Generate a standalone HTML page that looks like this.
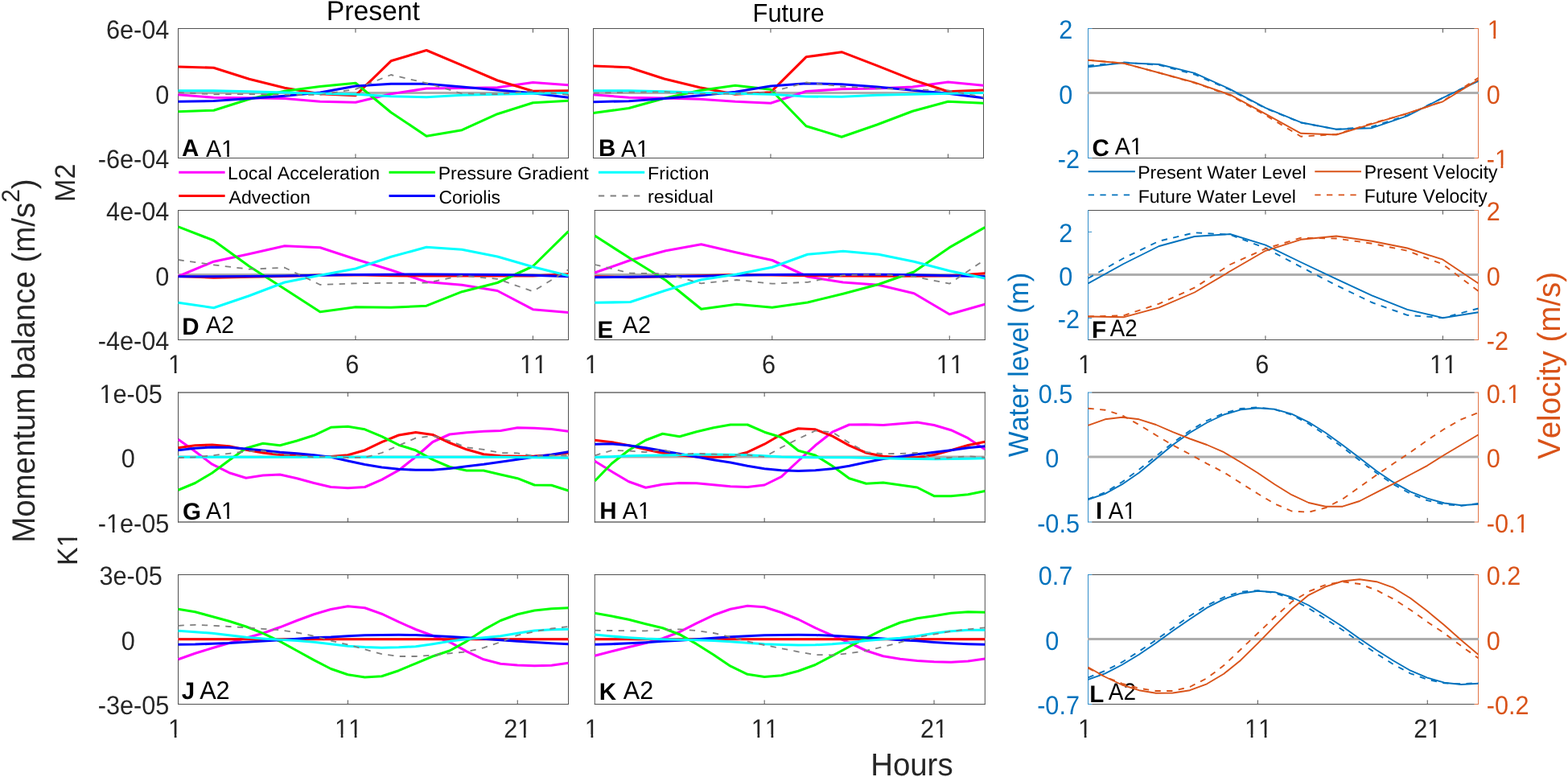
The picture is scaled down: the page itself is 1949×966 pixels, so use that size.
<!DOCTYPE html>
<html lang="en"><head><meta charset="utf-8"><title>Momentum balance</title>
<style>html,body{margin:0;padding:0;background:#fff;overflow:hidden}svg{display:block}text{font-family:"Liberation Sans",Arial,Helvetica,sans-serif;white-space:pre;font-kerning:none;text-rendering:geometricPrecision}.ln{fill:none;stroke-linejoin:round;stroke-linecap:butt}</style></head><body>
<svg width="1949" height="966" viewBox="0 0 1949 966">
<rect width="1949" height="966" fill="#fff"/>
<g id="pA">
<path d="M221.00 35.50H707.00M221.00 196.50H707.00" stroke="#515151" stroke-width="1" fill="none"/>
<path d="M441.95 35.5v5.1M441.95 196.5v-5.1M662.41 35.5v5.1M662.41 196.5v-5.1" stroke="#515151" stroke-width="1" fill="none"/>
<path d="M221.5 35.0V197.0" stroke="#515151" stroke-width="1" fill="none"/>
<path d="M706.5 35.0V197.0" stroke="#515151" stroke-width="1" fill="none"/>
<clipPath id="cA"><rect x="221.0" y="35.0" width="486.0" height="162.0"/></clipPath>
<g clip-path="url(#cA)">
<line x1="220.5" y1="115.60" x2="707.5" y2="115.60" stroke="#ADADAD" stroke-width="3"/>
<polyline class="ln" points="221.5,117.8 265.6,121.3 309.7,121.7 353.8,122.5 397.9,126.3 442.0,127.2 486.0,116.7 530.1,110.0 574.2,109.5 618.3,108.8 662.4,102.5 706.5,105.8" stroke="#FF00FF" stroke-width="3.05"/>
<polyline class="ln" points="221.5,83.0 265.6,84.2 309.7,98.3 353.8,109.2 397.9,116.7 442.0,118.7 486.0,75.8 530.1,62.5 574.2,81.2 618.3,100.0 662.4,113.3 706.5,112.7" stroke="#FF0000" stroke-width="3.05"/>
<polyline class="ln" points="221.5,138.7 265.6,137.2 309.7,123.3 353.8,113.3 397.9,107.5 442.0,103.3 486.0,139.7 530.1,169.2 574.2,161.7 618.3,141.7 662.4,127.8 706.5,125.3" stroke="#00FF00" stroke-width="3.05"/>
<polyline class="ln" points="221.5,126.3 265.6,125.5 309.7,122.5 353.8,119.2 397.9,115.0 442.0,107.0 486.0,104.2 530.1,104.3 574.2,108.0 618.3,112.0 662.4,115.8 706.5,121.2" stroke="#0000FF" stroke-width="3.05"/>
<polyline class="ln" points="221.5,112.7 265.6,112.7 309.7,113.7 353.8,115.0 397.9,116.3 442.0,117.2 486.0,119.7 530.1,120.7 574.2,118.3 618.3,117.2 662.4,116.2 706.5,115.5" stroke="#00FFFF" stroke-width="3.05"/>
<polyline class="ln" points="221.5,115.0 265.6,117.3 309.7,117.0 353.8,117.8 397.9,117.8 442.0,110.8 486.0,93.0 530.1,103.3 574.2,116.3 618.3,117.0 662.4,113.3 706.5,117.8" stroke="#808080" stroke-width="1.8" stroke-dasharray="7.3 7.4"/>
<text transform="translate(226.07 193.70) scale(1 1.0125)" font-size="29.50" fill="#000" font-weight="bold">A</text>
<clipPath id="f1"><path clip-rule="evenodd" d="M-400 -200H800V200H-400ZM19.72 -3.44H26.33V1.15H19.72ZM28.92 -3.44H35.50V1.15H28.92Z"/></clipPath>
<text transform="translate(255.94 194.80) scale(1 1.0357)" font-size="28.70" fill="#000" clip-path="url(#f1)">A1</text>
</g>
</g>
<g id="pB">
<path d="M737.00 35.50H1223.00M737.00 196.50H1223.00" stroke="#515151" stroke-width="1" fill="none"/>
<path d="M957.95 35.5v5.1M957.95 196.5v-5.1M1178.41 35.5v5.1M1178.41 196.5v-5.1" stroke="#515151" stroke-width="1" fill="none"/>
<path d="M737.5 35.0V197.0" stroke="#515151" stroke-width="1" fill="none"/>
<path d="M1222.5 35.0V197.0" stroke="#515151" stroke-width="1" fill="none"/>
<clipPath id="cB"><rect x="737.0" y="35.0" width="486.0" height="162.0"/></clipPath>
<g clip-path="url(#cB)">
<line x1="736.5" y1="115.60" x2="1223.5" y2="115.60" stroke="#ADADAD" stroke-width="3"/>
<polyline class="ln" points="737.5,117.8 781.6,121.2 825.7,122.0 869.8,123.3 913.9,126.3 958.0,128.3 1002.0,113.5 1046.1,110.8 1090.2,110.0 1134.3,108.0 1178.4,102.0 1222.5,106.3" stroke="#FF00FF" stroke-width="3.05"/>
<polyline class="ln" points="737.5,82.0 781.6,83.8 825.7,98.0 869.8,108.8 913.9,117.2 958.0,114.7 1002.0,70.8 1046.1,64.7 1090.2,81.7 1134.3,99.2 1178.4,113.8 1222.5,112.0" stroke="#FF0000" stroke-width="3.05"/>
<polyline class="ln" points="737.5,140.5 781.6,134.5 825.7,122.2 869.8,112.5 913.9,106.3 958.0,111.2 1002.0,156.7 1046.1,170.3 1090.2,155.0 1134.3,138.3 1178.4,126.3 1222.5,128.3" stroke="#00FF00" stroke-width="3.05"/>
<polyline class="ln" points="737.5,126.7 781.6,125.7 825.7,122.5 869.8,118.7 913.9,114.2 958.0,107.0 1002.0,103.7 1046.1,104.8 1090.2,108.0 1134.3,112.2 1178.4,116.2 1222.5,121.7" stroke="#0000FF" stroke-width="3.05"/>
<polyline class="ln" points="737.5,112.7 781.6,112.8 825.7,113.8 869.8,115.3 913.9,116.2 958.0,117.2 1002.0,120.0 1046.1,120.3 1090.2,118.3 1134.3,117.2 1178.4,116.2 1222.5,115.5" stroke="#00FFFF" stroke-width="3.05"/>
<polyline class="ln" points="737.5,115.8 781.6,114.7 825.7,114.2 869.8,116.7 913.9,116.7 958.0,114.5 1002.0,102.5 1046.1,107.5 1090.2,110.0 1134.3,111.3 1178.4,112.5 1222.5,120.8" stroke="#808080" stroke-width="1.8" stroke-dasharray="7.3 7.4"/>
<text transform="translate(743.93 193.70) scale(1 1.0125)" font-size="29.50" fill="#000" font-weight="bold">B</text>
<clipPath id="f2"><path clip-rule="evenodd" d="M-400 -200H800V200H-400ZM19.72 -3.44H26.33V1.15H19.72ZM28.92 -3.44H35.50V1.15H28.92Z"/></clipPath>
<text transform="translate(771.94 194.80) scale(1 1.0357)" font-size="28.70" fill="#000" clip-path="url(#f2)">A1</text>
</g>
</g>
<g id="pC">
<path d="M1357.20 35.50H1832.80M1357.20 196.50H1832.80" stroke="#515151" stroke-width="1" fill="none"/>
<path d="M1572.95 35.5v5.1M1572.95 196.5v-5.1M1793.41 35.5v5.1M1793.41 196.5v-5.1" stroke="#515151" stroke-width="1" fill="none"/>
<path d="M1352.5 35.50h4.7M1352.5 116.00h4.7M1352.5 196.50h4.7" stroke="#338ECA" stroke-width="1" fill="none"/>
<path d="M1837.5 35.50h-4.7M1837.5 116.00h-4.7M1837.5 196.50h-4.7" stroke="#E17547" stroke-width="1" fill="none"/>
<path d="M1352.5 35.0V197.0" stroke="#338ECA" stroke-width="1" fill="none"/>
<path d="M1837.5 35.0V197.0" stroke="#E17547" stroke-width="1" fill="none"/>
<clipPath id="cC"><rect x="1352.0" y="35.0" width="486.0" height="162.0"/></clipPath>
<g clip-path="url(#cC)">
<line x1="1351.5" y1="115.60" x2="1838.5" y2="115.60" stroke="#ADADAD" stroke-width="3"/>
<polyline class="ln" points="1352.5,83.3 1396.6,78.0 1440.7,80.0 1484.8,90.8 1528.9,110.8 1573.0,134.2 1617.0,152.2 1661.1,160.8 1705.2,159.2 1749.3,144.2 1793.4,121.7 1837.5,100.8" stroke="#0072BD" stroke-width="1.9"/>
<polyline class="ln" points="1352.5,81.7 1396.6,77.5 1440.7,80.8 1484.8,92.5 1528.9,111.7 1573.0,134.7 1617.0,152.5 1661.1,160.8 1705.2,157.5 1749.3,143.3 1793.4,121.7 1837.5,100.0" stroke="#0072BD" stroke-width="1.9" stroke-dasharray="7.3 7.4"/>
<text transform="translate(1357.39 193.90) scale(1 1.0125)" font-size="29.50" fill="#000" font-weight="bold">C</text>
<clipPath id="f3"><path clip-rule="evenodd" d="M-400 -200H800V200H-400ZM19.58 -3.43H26.15V1.14H19.58ZM28.72 -3.43H35.25V1.14H28.72Z"/></clipPath>
<text transform="translate(1385.84 191.90) scale(1 1.0429)" font-size="28.50" fill="#000" clip-path="url(#f3)">A1</text>
<polyline class="ln" points="1352.5,74.7 1396.6,78.7 1440.7,90.5 1484.8,102.5 1528.9,117.7 1573.0,141.7 1617.0,165.8 1661.1,167.5 1705.2,154.2 1749.3,140.8 1793.4,126.3 1837.5,99.2" stroke="#D95319" stroke-width="1.9"/>
<polyline class="ln" points="1352.5,74.7 1396.6,78.7 1440.7,90.5 1484.8,103.0 1528.9,118.5 1573.0,143.2 1617.0,169.7 1661.1,167.0 1705.2,153.3 1749.3,141.3 1793.4,125.8 1837.5,96.7" stroke="#D95319" stroke-width="1.9" stroke-dasharray="7.3 7.4"/>
</g>
</g>
<g id="pD">
<path d="M221.00 261.50H707.00M221.00 422.50H707.00" stroke="#515151" stroke-width="1" fill="none"/>
<path d="M441.95 261.5v5.1M441.95 422.5v-5.1M662.41 261.5v5.1M662.41 422.5v-5.1" stroke="#515151" stroke-width="1" fill="none"/>
<path d="M221.5 261.0V423.0" stroke="#515151" stroke-width="1" fill="none"/>
<path d="M706.5 261.0V423.0" stroke="#515151" stroke-width="1" fill="none"/>
<clipPath id="cD"><rect x="221.0" y="261.0" width="486.0" height="162.0"/></clipPath>
<g clip-path="url(#cD)">
<line x1="220.5" y1="341.60" x2="707.5" y2="341.60" stroke="#ADADAD" stroke-width="3"/>
<polyline class="ln" points="221.5,343.5 265.6,325.2 309.7,315.7 353.8,305.7 397.9,307.7 442.0,322.2 486.0,335.7 530.1,350.5 574.2,354.3 618.3,361.5 662.4,384.7 706.5,388.5" stroke="#FF00FF" stroke-width="3.05"/>
<polyline class="ln" points="221.5,343.5 265.6,345.2 309.7,344.3 353.8,343.5 397.9,342.0 442.0,341.8 486.0,342.7 530.1,343.0 574.2,343.0 618.3,343.0 662.4,343.0 706.5,340.7" stroke="#FF0000" stroke-width="3.05"/>
<polyline class="ln" points="221.5,281.8 265.6,299.0 309.7,331.0 353.8,359.3 397.9,387.7 442.0,381.8 486.0,382.3 530.1,380.2 574.2,362.7 618.3,351.5 662.4,331.0 706.5,287.7" stroke="#00FF00" stroke-width="3.05"/>
<polyline class="ln" points="221.5,343.8 265.6,343.8 309.7,343.5 353.8,343.0 397.9,342.3 442.0,341.5 486.0,341.2 530.1,341.0 574.2,341.2 618.3,341.5 662.4,342.2 706.5,343.8" stroke="#0000FF" stroke-width="3.05"/>
<polyline class="ln" points="221.5,376.3 265.6,382.7 309.7,367.7 353.8,351.0 397.9,342.2 442.0,334.0 486.0,319.3 530.1,307.3 574.2,310.2 618.3,319.0 662.4,331.8 706.5,342.7" stroke="#00FFFF" stroke-width="3.05"/>
<polyline class="ln" points="221.5,323.0 265.6,329.3 309.7,334.7 353.8,332.7 397.9,354.0 442.0,352.3 486.0,351.8 530.1,351.7 574.2,342.7 618.3,346.8 662.4,362.3 706.5,335.2" stroke="#808080" stroke-width="1.8" stroke-dasharray="7.3 7.4"/>
<text transform="translate(226.23 415.80) scale(1 1.0125)" font-size="29.50" fill="#000" font-weight="bold">D</text>
<text transform="translate(255.94 414.20) scale(1 1.0357)" font-size="28.70" fill="#000">A2</text>
</g>
</g>
<g id="pE">
<path d="M738.80 261.50H1224.80M738.80 422.50H1224.80" stroke="#515151" stroke-width="1" fill="none"/>
<path d="M959.75 261.5v5.1M959.75 422.5v-5.1M1180.21 261.5v5.1M1180.21 422.5v-5.1" stroke="#515151" stroke-width="1" fill="none"/>
<path d="M739.3 261.0V423.0" stroke="#515151" stroke-width="1" fill="none"/>
<path d="M1224.3 261.0V423.0" stroke="#515151" stroke-width="1" fill="none"/>
<clipPath id="cE"><rect x="738.8" y="261.0" width="486.0" height="162.0"/></clipPath>
<g clip-path="url(#cE)">
<line x1="738.3" y1="341.60" x2="1225.3" y2="341.60" stroke="#ADADAD" stroke-width="3"/>
<polyline class="ln" points="739.3,339.0 783.4,323.5 827.5,311.8 871.6,303.8 915.7,314.0 959.8,323.5 1003.8,344.0 1047.9,351.0 1092.0,354.3 1136.1,364.7 1180.2,390.7 1224.3,378.2" stroke="#FF00FF" stroke-width="3.05"/>
<polyline class="ln" points="739.3,343.8 783.4,344.8 827.5,343.8 871.6,342.7 915.7,341.5 959.8,342.0 1003.8,342.7 1047.9,343.0 1092.0,343.2 1136.1,343.2 1180.2,343.0 1224.3,339.8" stroke="#FF0000" stroke-width="3.05"/>
<polyline class="ln" points="739.3,293.0 783.4,321.3 827.5,348.5 871.6,384.3 915.7,378.2 959.8,382.3 1003.8,376.0 1047.9,365.2 1092.0,353.5 1136.1,338.0 1180.2,307.7 1224.3,282.7" stroke="#00FF00" stroke-width="3.05"/>
<polyline class="ln" points="739.3,344.7 783.4,344.3 827.5,343.8 871.6,343.3 915.7,342.2 959.8,341.5 1003.8,341.2 1047.9,341.2 1092.0,341.3 1136.1,341.8 1180.2,342.7 1224.3,343.8" stroke="#0000FF" stroke-width="3.05"/>
<polyline class="ln" points="739.3,376.3 783.4,375.5 827.5,361.0 871.6,347.7 915.7,341.0 959.8,332.3 1003.8,316.3 1047.9,312.3 1092.0,316.3 1136.1,325.2 1180.2,336.8 1224.3,346.0" stroke="#00FFFF" stroke-width="3.05"/>
<polyline class="ln" points="739.3,329.0 783.4,339.7 827.5,340.2 871.6,352.3 915.7,348.0 959.8,352.7 1003.8,350.8 1047.9,342.2 1092.0,341.0 1136.1,343.8 1180.2,352.7 1224.3,322.7" stroke="#808080" stroke-width="1.8" stroke-dasharray="7.3 7.4"/>
<text transform="translate(742.43 419.90) scale(1 1.0125)" font-size="29.50" fill="#000" font-weight="bold">E</text>
<text transform="translate(773.84 414.20) scale(1 1.0357)" font-size="28.70" fill="#000">A2</text>
</g>
</g>
<g id="pF">
<path d="M1352.00 261.50H1832.80M1352.00 422.50H1832.80" stroke="#515151" stroke-width="1" fill="none"/>
<path d="M1572.95 261.5v5.1M1572.95 422.5v-5.1M1793.41 261.5v5.1M1793.41 422.5v-5.1" stroke="#515151" stroke-width="1" fill="none"/>
<path d="M1352.5 288.33h4.7M1352.5 342.00h4.7M1352.5 395.67h4.7" stroke="#338ECA" stroke-width="1" fill="none"/>
<path d="M1837.5 261.50h-4.7M1837.5 342.00h-4.7M1837.5 422.50h-4.7" stroke="#E17547" stroke-width="1" fill="none"/>
<path d="M1352.5 261.0V423.0" stroke="#338ECA" stroke-width="1" fill="none"/>
<path d="M1837.5 261.0V423.0" stroke="#E17547" stroke-width="1" fill="none"/>
<clipPath id="cF"><rect x="1352.0" y="261.0" width="486.0" height="162.0"/></clipPath>
<g clip-path="url(#cF)">
<line x1="1351.5" y1="341.60" x2="1838.5" y2="341.60" stroke="#ADADAD" stroke-width="3"/>
<polyline class="ln" points="1352.5,352.3 1396.6,328.0 1440.7,306.0 1484.8,294.0 1528.9,291.0 1573.0,304.7 1617.0,326.0 1661.1,346.8 1705.2,367.3 1749.3,384.8 1793.4,395.2 1837.5,388.2" stroke="#0072BD" stroke-width="1.9"/>
<polyline class="ln" points="1352.5,346.0 1396.6,321.0 1440.7,299.7 1484.8,289.3 1528.9,291.7 1573.0,308.5 1617.0,331.8 1661.1,354.7 1705.2,376.0 1749.3,391.8 1793.4,395.2 1837.5,383.5" stroke="#0072BD" stroke-width="1.9" stroke-dasharray="7.3 7.4"/>
<text transform="translate(1357.03 419.90) scale(1 1.0125)" font-size="29.50" fill="#000" font-weight="bold">F</text>
<text transform="translate(1379.85 418.30) scale(1 1.0770)" font-size="27.60" fill="#000">A2</text>
<polyline class="ln" points="1352.5,393.5 1396.6,394.3 1440.7,382.3 1484.8,363.5 1528.9,337.3 1573.0,311.8 1617.0,297.8 1661.1,293.5 1705.2,299.7 1749.3,308.5 1793.4,322.7 1837.5,352.3" stroke="#D95319" stroke-width="1.9"/>
<polyline class="ln" points="1352.5,393.5 1396.6,392.3 1440.7,377.7 1484.8,357.7 1528.9,329.0 1573.0,309.2 1617.0,295.7 1661.1,296.5 1705.2,302.7 1749.3,311.8 1793.4,328.5 1837.5,361.8" stroke="#D95319" stroke-width="1.9" stroke-dasharray="7.3 7.4"/>
</g>
</g>
<g id="pG">
<path d="M221.00 488.00H707.00M221.00 649.00H707.00" stroke="#1c1c1c" stroke-width="1" fill="none"/>
<path d="M432.37 488.0v5.1M432.37 649.0v-5.1M643.24 488.0v5.1M643.24 649.0v-5.1" stroke="#515151" stroke-width="1" fill="none"/>
<path d="M221.5 487.5V649.5" stroke="#515151" stroke-width="1" fill="none"/>
<path d="M706.5 487.5V649.5" stroke="#515151" stroke-width="1" fill="none"/>
<clipPath id="cG"><rect x="221.0" y="487.5" width="486.0" height="162.0"/></clipPath>
<g clip-path="url(#cG)">
<line x1="220.5" y1="568.10" x2="707.5" y2="568.10" stroke="#ADADAD" stroke-width="3"/>
<polyline class="ln" points="221.5,546.3 242.6,561.3 263.7,577.2 284.8,587.7 305.8,594.2 326.9,591.0 348.0,590.0 369.1,594.7 390.2,600.5 411.3,605.5 432.4,606.7 453.5,605.5 474.5,596.3 495.6,584.7 516.7,568.0 537.8,549.5 558.9,540.0 580.0,537.7 601.1,536.3 622.2,535.5 643.2,531.8 664.3,532.2 685.4,533.5 706.5,536.3" stroke="#FF00FF" stroke-width="3.05"/>
<polyline class="ln" points="221.5,556.8 242.6,553.8 263.7,553.0 284.8,554.7 305.8,559.3 326.9,563.0 348.0,565.5 369.1,566.0 390.2,567.7 411.3,567.5 432.4,565.7 453.5,559.7 474.5,549.7 495.6,541.0 516.7,537.5 537.8,540.5 558.9,550.5 580.0,558.8 601.1,564.8 622.2,566.8 643.2,567.3 664.3,567.0 685.4,565.7 706.5,563.0" stroke="#FF0000" stroke-width="3.05"/>
<polyline class="ln" points="221.5,609.3 242.6,600.5 263.7,588.0 284.8,572.2 305.8,557.2 326.9,551.3 348.0,553.8 369.1,548.0 390.2,541.3 411.3,531.3 432.4,530.3 453.5,533.8 474.5,542.7 495.6,553.2 516.7,559.8 537.8,571.3 558.9,580.5 580.0,585.0 601.1,585.0 622.2,590.0 643.2,594.7 664.3,603.0 685.4,603.3 706.5,610.0" stroke="#00FF00" stroke-width="3.05"/>
<polyline class="ln" points="221.5,559.7 242.6,557.2 263.7,556.0 284.8,556.3 305.8,558.0 326.9,560.0 348.0,562.2 369.1,563.8 390.2,565.8 411.3,568.3 432.4,573.0 453.5,577.5 474.5,581.0 495.6,583.3 516.7,584.3 537.8,584.2 558.9,582.5 580.0,579.7 601.1,577.2 622.2,574.2 643.2,571.3 664.3,568.0 685.4,565.2 706.5,561.8" stroke="#0000FF" stroke-width="3.05"/>
<polyline class="ln" points="221.5,568.3 242.6,568.3 263.7,568.3 284.8,568.3 305.8,568.3 326.9,568.3 348.0,568.3 369.1,568.3 390.2,568.3 411.3,568.3 432.4,568.3 453.5,568.3 474.5,568.3 495.6,568.3 516.7,568.3 537.8,568.3 558.9,568.3 580.0,568.3 601.1,568.3 622.2,568.3 643.2,568.5 664.3,568.7 685.4,569.0 706.5,569.2" stroke="#00FFFF" stroke-width="3.05"/>
<polyline class="ln" points="221.5,569.2 242.6,568.3 263.7,566.3 284.8,563.8 305.8,561.3 326.9,560.5 348.0,564.7 369.1,566.3 390.2,568.3 411.3,567.2 432.4,569.0 453.5,568.8 474.5,563.0 495.6,553.8 516.7,544.7 537.8,541.7 558.9,548.0 580.0,556.3 601.1,558.8 622.2,563.0 643.2,563.3 664.3,567.2 685.4,566.0 706.5,566.3" stroke="#808080" stroke-width="1.8" stroke-dasharray="7.3 7.4"/>
<text transform="translate(226.99 646.30) scale(1 1.0125)" font-size="29.50" fill="#000" font-weight="bold">G</text>
<clipPath id="f4"><path clip-rule="evenodd" d="M-400 -200H800V200H-400ZM19.72 -3.44H26.33V1.15H19.72ZM28.92 -3.44H35.50V1.15H28.92Z"/></clipPath>
<text transform="translate(255.94 644.70) scale(1 1.0357)" font-size="28.70" fill="#000" clip-path="url(#f4)">A1</text>
</g>
</g>
<g id="pH">
<path d="M738.80 488.00H1224.80M738.80 649.00H1224.80" stroke="#1c1c1c" stroke-width="1" fill="none"/>
<path d="M950.17 488.0v5.1M950.17 649.0v-5.1M1161.04 488.0v5.1M1161.04 649.0v-5.1" stroke="#515151" stroke-width="1" fill="none"/>
<path d="M739.3 487.5V649.5" stroke="#515151" stroke-width="1" fill="none"/>
<path d="M1224.3 487.5V649.5" stroke="#515151" stroke-width="1" fill="none"/>
<clipPath id="cH"><rect x="738.8" y="487.5" width="486.0" height="162.0"/></clipPath>
<g clip-path="url(#cH)">
<line x1="738.3" y1="568.10" x2="1225.3" y2="568.10" stroke="#ADADAD" stroke-width="3"/>
<polyline class="ln" points="739.3,573.3 760.4,586.3 781.5,598.8 802.6,606.3 823.6,602.2 844.7,600.5 865.8,600.8 886.9,602.7 908.0,604.7 929.1,605.5 950.2,603.0 971.3,592.7 992.3,573.0 1013.4,553.8 1034.5,537.2 1055.6,528.0 1076.7,527.7 1097.8,528.5 1118.9,526.7 1140.0,525.0 1161.0,528.5 1182.1,534.7 1203.2,544.7 1224.3,558.8" stroke="#FF00FF" stroke-width="3.05"/>
<polyline class="ln" points="739.3,547.2 760.4,549.7 781.5,553.8 802.6,558.8 823.6,563.3 844.7,566.0 865.8,567.7 886.9,568.3 908.0,567.8 929.1,562.2 950.2,552.2 971.3,540.0 992.3,532.7 1013.4,533.8 1034.5,542.2 1055.6,553.8 1076.7,563.0 1097.8,567.2 1118.9,568.8 1140.0,568.8 1161.0,565.5 1182.1,559.7 1203.2,553.5 1224.3,549.3" stroke="#FF0000" stroke-width="3.05"/>
<polyline class="ln" points="739.3,598.0 760.4,576.3 781.5,559.7 802.6,547.2 823.6,539.3 844.7,542.7 865.8,536.8 886.9,531.7 908.0,528.0 929.1,528.0 950.2,537.2 971.3,543.8 992.3,560.2 1013.4,566.0 1034.5,579.3 1055.6,594.7 1076.7,601.3 1097.8,600.0 1118.9,603.0 1140.0,606.0 1161.0,616.7 1182.1,616.7 1203.2,614.7 1224.3,610.5" stroke="#00FF00" stroke-width="3.05"/>
<polyline class="ln" points="739.3,552.2 760.4,551.8 781.5,553.8 802.6,556.7 823.6,560.5 844.7,564.3 865.8,568.0 886.9,571.7 908.0,575.0 929.1,579.2 950.2,582.7 971.3,584.7 992.3,585.5 1013.4,584.7 1034.5,582.7 1055.6,579.3 1076.7,574.7 1097.8,570.5 1118.9,567.7 1140.0,564.7 1161.0,562.2 1182.1,559.7 1203.2,556.8 1224.3,554.7" stroke="#0000FF" stroke-width="3.05"/>
<polyline class="ln" points="739.3,568.5 760.4,567.7 781.5,566.8 802.6,566.3 823.6,566.0 844.7,565.5 865.8,565.0 886.9,565.0 908.0,565.2 929.1,565.7 950.2,566.7 971.3,568.0 992.3,568.5 1013.4,568.7 1034.5,568.8 1055.6,568.8 1076.7,569.2 1097.8,569.7 1118.9,570.2 1140.0,570.5 1161.0,570.8 1182.1,570.5 1203.2,570.2 1224.3,569.7" stroke="#00FFFF" stroke-width="3.05"/>
<polyline class="ln" points="739.3,566.3 760.4,560.0 781.5,560.5 802.6,562.2 823.6,558.8 844.7,565.0 865.8,563.8 886.9,564.7 908.0,565.8 929.1,565.5 950.2,568.0 971.3,556.3 992.3,545.5 1013.4,535.5 1034.5,537.2 1055.6,550.5 1076.7,562.2 1097.8,564.3 1118.9,563.8 1140.0,563.0 1161.0,570.5 1182.1,568.8 1203.2,567.2 1224.3,568.8" stroke="#808080" stroke-width="1.8" stroke-dasharray="7.3 7.4"/>
<text transform="translate(745.23 644.90) scale(1 1.0125)" font-size="29.50" fill="#000" font-weight="bold">H</text>
<clipPath id="f5"><path clip-rule="evenodd" d="M-400 -200H800V200H-400ZM19.72 -3.44H26.33V1.15H19.72ZM28.92 -3.44H35.50V1.15H28.92Z"/></clipPath>
<text transform="translate(773.84 644.70) scale(1 1.0357)" font-size="28.70" fill="#000" clip-path="url(#f5)">A1</text>
</g>
</g>
<g id="pI">
<path d="M1357.20 488.00H1832.80M1357.20 649.00H1832.80" stroke="#1c1c1c" stroke-width="1" fill="none"/>
<path d="M1563.37 488.0v5.1M1563.37 649.0v-5.1M1774.24 488.0v5.1M1774.24 649.0v-5.1" stroke="#515151" stroke-width="1" fill="none"/>
<path d="M1352.5 488.00h4.7M1352.5 568.50h4.7M1352.5 649.00h4.7" stroke="#338ECA" stroke-width="1" fill="none"/>
<path d="M1837.5 488.00h-4.7M1837.5 568.50h-4.7M1837.5 649.00h-4.7" stroke="#E17547" stroke-width="1" fill="none"/>
<path d="M1352.5 487.5V649.5" stroke="#338ECA" stroke-width="1" fill="none"/>
<path d="M1837.5 487.5V649.5" stroke="#E17547" stroke-width="1" fill="none"/>
<clipPath id="cI"><rect x="1352.0" y="487.5" width="486.0" height="162.0"/></clipPath>
<g clip-path="url(#cI)">
<line x1="1351.5" y1="568.10" x2="1838.5" y2="568.10" stroke="#ADADAD" stroke-width="3"/>
<polyline class="ln" points="1352.5,621.0 1373.6,613.8 1394.7,602.2 1415.8,587.7 1436.8,570.5 1457.9,553.0 1479.0,538.0 1500.1,525.5 1521.2,515.5 1542.3,509.3 1563.4,507.2 1584.5,508.8 1605.5,514.7 1626.6,524.8 1647.7,538.0 1668.8,553.3 1689.9,569.2 1711.0,585.5 1732.1,599.7 1753.2,611.3 1774.2,619.7 1795.3,625.5 1816.4,628.3 1837.5,626.7" stroke="#0072BD" stroke-width="1.9"/>
<polyline class="ln" points="1352.5,620.5 1373.6,612.2 1394.7,599.3 1415.8,583.8 1436.8,567.2 1457.9,550.5 1479.0,535.5 1500.1,523.0 1521.2,513.8 1542.3,508.0 1563.4,506.3 1584.5,509.0 1605.5,515.7 1626.6,526.8 1647.7,540.8 1668.8,556.0 1689.9,572.2 1711.0,588.0 1732.1,602.2 1753.2,613.8 1774.2,622.2 1795.3,627.2 1816.4,628.8 1837.5,626.0" stroke="#0072BD" stroke-width="1.9" stroke-dasharray="7.3 7.4"/>
<text transform="translate(1362.08 644.90) scale(1 1.0125)" font-size="29.50" fill="#000" font-weight="bold">I</text>
<clipPath id="f6"><path clip-rule="evenodd" d="M-400 -200H800V200H-400ZM19.24 -3.39H25.69V1.12H19.24ZM28.22 -3.39H34.64V1.12H28.22Z"/></clipPath>
<text transform="translate(1377.85 644.70) scale(1 1.0616)" font-size="28.00" fill="#000" clip-path="url(#f6)">A1</text>
<polyline class="ln" points="1352.5,528.8 1373.6,521.3 1394.7,518.8 1415.8,521.3 1436.8,528.0 1457.9,537.2 1479.0,545.5 1500.1,553.0 1521.2,562.2 1542.3,574.7 1563.4,588.0 1584.5,602.2 1605.5,615.2 1626.6,625.0 1647.7,629.7 1668.8,629.7 1689.9,623.0 1711.0,612.2 1732.1,601.3 1753.2,590.0 1774.2,578.8 1795.3,565.5 1816.4,553.0 1837.5,540.5" stroke="#D95319" stroke-width="1.9"/>
<polyline class="ln" points="1352.5,507.7 1373.6,509.7 1394.7,516.3 1415.8,528.0 1436.8,541.0 1457.9,553.5 1479.0,564.7 1500.1,576.3 1521.2,587.2 1542.3,600.5 1563.4,613.8 1584.5,626.3 1605.5,635.5 1626.6,636.7 1647.7,631.3 1668.8,620.5 1689.9,605.5 1711.0,590.5 1732.1,576.3 1753.2,562.2 1774.2,547.2 1795.3,533.3 1816.4,521.3 1837.5,513.0" stroke="#D95319" stroke-width="1.9" stroke-dasharray="7.3 7.4"/>
</g>
</g>
<g id="pJ">
<path d="M221.00 714.50H707.00M221.00 875.50H707.00" stroke="#515151" stroke-width="1" fill="none"/>
<path d="M432.37 714.5v5.1M432.37 875.5v-5.1M643.24 714.5v5.1M643.24 875.5v-5.1" stroke="#515151" stroke-width="1" fill="none"/>
<path d="M221.5 714.0V876.0" stroke="#515151" stroke-width="1" fill="none"/>
<path d="M706.5 714.0V876.0" stroke="#515151" stroke-width="1" fill="none"/>
<clipPath id="cJ"><rect x="221.0" y="714.0" width="486.0" height="162.0"/></clipPath>
<g clip-path="url(#cJ)">
<line x1="220.5" y1="794.60" x2="707.5" y2="794.60" stroke="#ADADAD" stroke-width="3"/>
<polyline class="ln" points="221.5,819.8 242.6,812.3 263.7,805.7 284.8,799.5 305.8,793.2 326.9,787.3 348.0,779.8 369.1,771.5 390.2,763.7 411.3,757.5 432.4,753.7 453.5,755.7 474.5,763.2 495.6,773.2 516.7,782.5 537.8,790.2 558.9,798.2 580.0,809.8 601.1,819.8 622.2,825.2 643.2,827.0 664.3,827.8 685.4,827.3 706.5,824.3" stroke="#FF00FF" stroke-width="3.05"/>
<polyline class="ln" points="221.5,794.8 242.6,794.8 263.7,794.8 284.8,794.8 305.8,794.8 326.9,794.8 348.0,794.8 369.1,794.8 390.2,794.8 411.3,794.8 432.4,794.8 453.5,794.8 474.5,794.8 495.6,794.8 516.7,794.8 537.8,794.8 558.9,794.8 580.0,794.8 601.1,794.8 622.2,794.8 643.2,794.8 664.3,794.8 685.4,794.8 706.5,794.8" stroke="#FF0000" stroke-width="3.05"/>
<polyline class="ln" points="221.5,757.3 242.6,760.7 263.7,766.5 284.8,772.3 305.8,779.0 326.9,787.3 348.0,797.3 369.1,809.0 390.2,820.7 411.3,831.5 432.4,838.7 453.5,842.0 474.5,840.7 495.6,833.7 516.7,824.8 537.8,816.0 558.9,809.0 580.0,797.3 601.1,783.2 622.2,771.5 643.2,763.7 664.3,759.0 685.4,756.8 706.5,755.7" stroke="#00FF00" stroke-width="3.05"/>
<polyline class="ln" points="221.5,801.2 242.6,801.0 263.7,800.3 284.8,799.5 305.8,798.2 326.9,797.0 348.0,795.7 369.1,794.3 390.2,792.8 411.3,792.0 432.4,790.7 453.5,789.8 474.5,789.5 495.6,789.3 516.7,789.5 537.8,790.5 558.9,791.5 580.0,792.7 601.1,794.3 622.2,795.7 643.2,797.3 664.3,798.5 685.4,799.8 706.5,800.7" stroke="#0000FF" stroke-width="3.05"/>
<polyline class="ln" points="221.5,784.3 242.6,785.7 263.7,787.3 284.8,789.8 305.8,792.3 326.9,794.0 348.0,795.3 369.1,796.5 390.2,798.2 411.3,800.7 432.4,803.2 453.5,804.5 474.5,805.3 495.6,804.8 516.7,803.7 537.8,800.7 558.9,797.3 580.0,794.5 601.1,792.8 622.2,790.7 643.2,787.3 664.3,784.0 685.4,782.7 706.5,782.3" stroke="#00FFFF" stroke-width="3.05"/>
<polyline class="ln" points="221.5,777.8 242.6,776.8 263.7,777.7 284.8,779.0 305.8,780.2 326.9,781.8 348.0,783.2 369.1,786.5 390.2,790.7 411.3,796.5 432.4,801.5 453.5,807.3 474.5,813.2 495.6,816.0 516.7,816.0 537.8,814.5 558.9,812.3 580.0,810.3 601.1,805.3 622.2,798.2 643.2,789.8 664.3,785.2 685.4,781.5 706.5,779.0" stroke="#808080" stroke-width="1.8" stroke-dasharray="7.3 7.4"/>
<text transform="translate(225.75 868.60) scale(1 1.0125)" font-size="29.50" fill="#000" font-weight="bold">J</text>
<text transform="translate(248.14 869.00) scale(1 1.0321)" font-size="30.70" fill="#000">A2</text>
</g>
</g>
<g id="pK">
<path d="M738.80 714.50H1224.80M738.80 875.50H1224.80" stroke="#515151" stroke-width="1" fill="none"/>
<path d="M950.17 714.5v5.1M950.17 875.5v-5.1M1161.04 714.5v5.1M1161.04 875.5v-5.1" stroke="#515151" stroke-width="1" fill="none"/>
<path d="M739.3 714.0V876.0" stroke="#515151" stroke-width="1" fill="none"/>
<path d="M1224.3 714.0V876.0" stroke="#515151" stroke-width="1" fill="none"/>
<clipPath id="cK"><rect x="738.8" y="714.0" width="486.0" height="162.0"/></clipPath>
<g clip-path="url(#cK)">
<line x1="738.3" y1="794.60" x2="1225.3" y2="794.60" stroke="#ADADAD" stroke-width="3"/>
<polyline class="ln" points="739.3,815.3 760.4,809.8 781.5,804.5 802.6,799.5 823.6,793.7 844.7,785.7 865.8,774.8 886.9,764.8 908.0,757.3 929.1,753.2 950.2,754.8 971.3,761.5 992.3,770.0 1013.4,780.7 1034.5,789.8 1055.6,799.0 1076.7,809.0 1097.8,815.7 1118.9,819.3 1140.0,821.5 1161.0,822.8 1182.1,823.2 1203.2,822.0 1224.3,819.0" stroke="#FF00FF" stroke-width="3.05"/>
<polyline class="ln" points="739.3,794.8 760.4,794.8 781.5,794.8 802.6,794.8 823.6,794.8 844.7,794.8 865.8,794.8 886.9,794.8 908.0,794.8 929.1,794.8 950.2,794.8 971.3,794.8 992.3,794.8 1013.4,794.8 1034.5,794.8 1055.6,794.8 1076.7,794.8 1097.8,794.8 1118.9,794.8 1140.0,794.8 1161.0,794.8 1182.1,794.8 1203.2,794.8 1224.3,794.8" stroke="#FF0000" stroke-width="3.05"/>
<polyline class="ln" points="739.3,762.3 760.4,766.0 781.5,770.3 802.6,775.7 823.6,780.7 844.7,788.7 865.8,800.7 886.9,814.0 908.0,828.2 929.1,838.3 950.2,841.5 971.3,839.8 992.3,834.3 1013.4,826.5 1034.5,815.3 1055.6,804.0 1076.7,793.2 1097.8,782.7 1118.9,774.0 1140.0,768.7 1161.0,765.7 1182.1,762.3 1203.2,760.7 1224.3,761.2" stroke="#00FF00" stroke-width="3.05"/>
<polyline class="ln" points="739.3,801.2 760.4,800.7 781.5,799.8 802.6,798.7 823.6,797.3 844.7,796.2 865.8,794.8 886.9,793.2 908.0,791.8 929.1,790.7 950.2,789.8 971.3,789.5 992.3,789.3 1013.4,789.5 1034.5,790.3 1055.6,791.5 1076.7,792.7 1097.8,794.0 1118.9,795.7 1140.0,796.8 1161.0,798.5 1182.1,799.8 1203.2,800.7 1224.3,801.2" stroke="#0000FF" stroke-width="3.05"/>
<polyline class="ln" points="739.3,789.0 760.4,791.0 781.5,792.7 802.6,794.0 823.6,794.8 844.7,795.2 865.8,795.7 886.9,796.5 908.0,797.8 929.1,799.3 950.2,800.7 971.3,801.5 992.3,802.0 1013.4,801.8 1034.5,800.7 1055.6,799.0 1076.7,796.5 1097.8,794.8 1118.9,793.2 1140.0,790.7 1161.0,787.3 1182.1,784.8 1203.2,783.2 1224.3,783.2" stroke="#00FFFF" stroke-width="3.05"/>
<polyline class="ln" points="739.3,783.7 760.4,784.0 781.5,784.3 802.6,784.3 823.6,783.2 844.7,782.3 865.8,784.0 886.9,787.0 908.0,792.0 929.1,797.3 950.2,802.0 971.3,806.2 992.3,810.3 1013.4,814.0 1034.5,814.5 1055.6,812.3 1076.7,809.0 1097.8,804.0 1118.9,798.7 1140.0,792.3 1161.0,788.7 1182.1,784.8 1203.2,782.3 1224.3,780.3" stroke="#808080" stroke-width="1.8" stroke-dasharray="7.3 7.4"/>
<text transform="translate(744.63 869.90) scale(1 1.0125)" font-size="29.50" fill="#000" font-weight="bold">K</text>
<text transform="translate(774.84 869.00) scale(1 1.0389)" font-size="30.50" fill="#000">A2</text>
</g>
</g>
<g id="pL">
<path d="M1357.20 714.50H1832.80M1357.20 875.50H1832.80" stroke="#515151" stroke-width="1" fill="none"/>
<path d="M1563.37 714.5v5.1M1563.37 875.5v-5.1M1774.24 714.5v5.1M1774.24 875.5v-5.1" stroke="#515151" stroke-width="1" fill="none"/>
<path d="M1352.5 714.50h4.7M1352.5 795.00h4.7M1352.5 875.50h4.7" stroke="#338ECA" stroke-width="1" fill="none"/>
<path d="M1837.5 714.50h-4.7M1837.5 795.00h-4.7M1837.5 875.50h-4.7" stroke="#E17547" stroke-width="1" fill="none"/>
<path d="M1352.5 714.0V876.0" stroke="#338ECA" stroke-width="1" fill="none"/>
<path d="M1837.5 714.0V876.0" stroke="#E17547" stroke-width="1" fill="none"/>
<clipPath id="cL"><rect x="1352.0" y="714.0" width="486.0" height="162.0"/></clipPath>
<g clip-path="url(#cL)">
<line x1="1351.5" y1="794.60" x2="1838.5" y2="794.60" stroke="#ADADAD" stroke-width="3"/>
<polyline class="ln" points="1352.5,844.8 1373.6,837.3 1394.7,826.5 1415.8,813.7 1436.8,799.5 1457.9,784.3 1479.0,769.8 1500.1,755.7 1521.2,744.8 1542.3,737.7 1563.4,734.8 1584.5,736.2 1605.5,742.5 1626.6,752.5 1647.7,765.5 1668.8,779.0 1689.9,794.0 1711.0,808.2 1732.1,821.5 1753.2,833.7 1774.2,842.7 1795.3,848.7 1816.4,851.0 1837.5,849.8" stroke="#0072BD" stroke-width="1.9"/>
<polyline class="ln" points="1352.5,842.3 1373.6,834.0 1394.7,823.2 1415.8,809.8 1436.8,795.7 1457.9,780.7 1479.0,765.7 1500.1,752.7 1521.2,742.5 1542.3,735.7 1563.4,734.2 1584.5,737.2 1605.5,744.5 1626.6,756.2 1647.7,769.5 1668.8,783.2 1689.9,798.2 1711.0,812.7 1732.1,826.0 1753.2,837.3 1774.2,844.8 1795.3,849.3 1816.4,850.3 1837.5,849.0" stroke="#0072BD" stroke-width="1.9" stroke-dasharray="7.3 7.4"/>
<text transform="translate(1354.33 872.90) scale(1 1.0125)" font-size="29.50" fill="#000" font-weight="bold">L</text>
<text transform="translate(1377.85 869.90) scale(1 1.0616)" font-size="28.00" fill="#000">A2</text>
<polyline class="ln" points="1352.5,829.5 1373.6,841.5 1394.7,851.5 1415.8,858.2 1436.8,861.8 1457.9,861.5 1479.0,858.2 1500.1,850.3 1521.2,837.7 1542.3,820.7 1563.4,799.8 1584.5,778.2 1605.5,757.3 1626.6,739.8 1647.7,729.3 1668.8,722.5 1689.9,720.3 1711.0,723.2 1732.1,730.7 1753.2,743.7 1774.2,759.8 1795.3,777.3 1816.4,796.0 1837.5,813.7" stroke="#D95319" stroke-width="1.9"/>
<polyline class="ln" points="1352.5,830.7 1373.6,841.5 1394.7,849.8 1415.8,855.7 1436.8,859.0 1457.9,859.0 1479.0,854.0 1500.1,843.2 1521.2,827.3 1542.3,807.3 1563.4,787.3 1584.5,767.3 1605.5,748.2 1626.6,735.5 1647.7,727.0 1668.8,723.2 1689.9,726.0 1711.0,733.7 1732.1,744.8 1753.2,758.2 1774.2,773.2 1795.3,787.3 1816.4,803.2 1837.5,818.2" stroke="#D95319" stroke-width="1.9" stroke-dasharray="7.3 7.4"/>
</g>
</g>
<text transform="translate(405.63 25.47) scale(1 1.0135)" font-size="33.75" fill="#000">Present</text>
<text transform="translate(935.57 26.59) scale(1 1.0385)" font-size="30.83" fill="#000">Future</text>
<text transform="translate(210.30 48.00) scale(1 1.0700)" font-size="30.60" fill="#262626" text-anchor="end">6e-04</text>
<text transform="translate(210.30 128.50) scale(1 1.0700)" font-size="30.60" fill="#262626" text-anchor="end">0</text>
<text transform="translate(210.30 209.00) scale(1 1.0700)" font-size="30.60" fill="#262626" text-anchor="end">-6e-04</text>
<text transform="translate(210.30 274.00) scale(1 1.0700)" font-size="30.60" fill="#262626" text-anchor="end">4e-04</text>
<text transform="translate(210.30 354.50) scale(1 1.0700)" font-size="30.60" fill="#262626" text-anchor="end">0</text>
<text transform="translate(210.30 435.00) scale(1 1.0700)" font-size="30.60" fill="#262626" text-anchor="end">-4e-04</text>
<clipPath id="f7"><path clip-rule="evenodd" d="M-400 -200H800V200H-400ZM-77.65 -3.59H-70.60V1.22H-77.65ZM-67.83 -3.59H-60.82V1.22H-67.83Z"/></clipPath>
<text transform="translate(201.79 500.50) scale(1 1.0700)" font-size="30.60" fill="#262626" text-anchor="end" clip-path="url(#f7)">1e-05</text>
<text transform="translate(167.77 581.00) scale(1 1.0700)" font-size="30.60" fill="#262626" text-anchor="end">0</text>
<clipPath id="f8"><path clip-rule="evenodd" d="M-400 -200H800V200H-400ZM-77.65 -3.59H-70.60V1.22H-77.65ZM-67.83 -3.59H-60.82V1.22H-67.83Z"/></clipPath>
<text transform="translate(210.30 661.50) scale(1 1.0700)" font-size="30.60" fill="#262626" text-anchor="end" clip-path="url(#f8)">-1e-05</text>
<text transform="translate(201.79 727.00) scale(1 1.0700)" font-size="30.60" fill="#262626" text-anchor="end">3e-05</text>
<text transform="translate(167.77 807.50) scale(1 1.0700)" font-size="30.60" fill="#262626" text-anchor="end">0</text>
<text transform="translate(210.30 888.00) scale(1 1.0700)" font-size="30.60" fill="#262626" text-anchor="end">-3e-05</text>
<clipPath id="f9"><path clip-rule="evenodd" d="M-400 -200H800V200H-400ZM-7.90 -3.59H-0.84V1.22H-7.90ZM1.92 -3.59H8.93V1.22H1.92Z"/></clipPath>
<text transform="translate(217.55 464.10) scale(1 1.0700)" font-size="30.60" fill="#262626" text-anchor="middle" clip-path="url(#f9)">1</text>
<text transform="translate(437.70 464.10) scale(1 1.0700)" font-size="30.60" fill="#262626" text-anchor="middle">6</text>
<clipPath id="f10"><path clip-rule="evenodd" d="M-400 -200H800V200H-400ZM-16.41 -3.59H-9.35V1.22H-16.41ZM-6.59 -3.59H0.42V1.22H-6.59ZM0.61 -3.59H7.67V1.22H0.61ZM10.43 -3.59H17.44V1.22H10.43Z"/></clipPath>
<text transform="translate(663.06 464.10) scale(1 1.0700)" font-size="30.60" fill="#262626" text-anchor="middle" clip-path="url(#f10)">11</text>
<clipPath id="f11"><path clip-rule="evenodd" d="M-400 -200H800V200H-400ZM-7.90 -3.59H-0.84V1.22H-7.90ZM1.92 -3.59H8.93V1.22H1.92Z"/></clipPath>
<text transform="translate(217.55 916.80) scale(1 1.0700)" font-size="30.60" fill="#262626" text-anchor="middle" clip-path="url(#f11)">1</text>
<clipPath id="f12"><path clip-rule="evenodd" d="M-400 -200H800V200H-400ZM-16.41 -3.59H-9.35V1.22H-16.41ZM-6.59 -3.59H0.42V1.22H-6.59ZM0.61 -3.59H7.67V1.22H0.61ZM10.43 -3.59H17.44V1.22H10.43Z"/></clipPath>
<text transform="translate(433.02 916.80) scale(1 1.0700)" font-size="30.60" fill="#262626" text-anchor="middle" clip-path="url(#f12)">11</text>
<clipPath id="f13"><path clip-rule="evenodd" d="M-400 -200H800V200H-400ZM0.61 -3.59H7.67V1.22H0.61ZM10.43 -3.59H17.44V1.22H10.43Z"/></clipPath>
<text transform="translate(643.24 916.80) scale(1 1.0700)" font-size="30.60" fill="#262626" text-anchor="middle" clip-path="url(#f13)">21</text>
<clipPath id="f14"><path clip-rule="evenodd" d="M-400 -200H800V200H-400ZM-7.90 -3.59H-0.84V1.22H-7.90ZM1.92 -3.59H8.93V1.22H1.92Z"/></clipPath>
<text transform="translate(735.35 464.10) scale(1 1.0700)" font-size="30.60" fill="#262626" text-anchor="middle" clip-path="url(#f14)">1</text>
<text transform="translate(955.50 464.10) scale(1 1.0700)" font-size="30.60" fill="#262626" text-anchor="middle">6</text>
<clipPath id="f15"><path clip-rule="evenodd" d="M-400 -200H800V200H-400ZM-16.41 -3.59H-9.35V1.22H-16.41ZM-6.59 -3.59H0.42V1.22H-6.59ZM0.61 -3.59H7.67V1.22H0.61ZM10.43 -3.59H17.44V1.22H10.43Z"/></clipPath>
<text transform="translate(1180.86 464.10) scale(1 1.0700)" font-size="30.60" fill="#262626" text-anchor="middle" clip-path="url(#f15)">11</text>
<clipPath id="f16"><path clip-rule="evenodd" d="M-400 -200H800V200H-400ZM-7.90 -3.59H-0.84V1.22H-7.90ZM1.92 -3.59H8.93V1.22H1.92Z"/></clipPath>
<text transform="translate(735.35 916.80) scale(1 1.0700)" font-size="30.60" fill="#262626" text-anchor="middle" clip-path="url(#f16)">1</text>
<clipPath id="f17"><path clip-rule="evenodd" d="M-400 -200H800V200H-400ZM-16.41 -3.59H-9.35V1.22H-16.41ZM-6.59 -3.59H0.42V1.22H-6.59ZM0.61 -3.59H7.67V1.22H0.61ZM10.43 -3.59H17.44V1.22H10.43Z"/></clipPath>
<text transform="translate(950.82 916.80) scale(1 1.0700)" font-size="30.60" fill="#262626" text-anchor="middle" clip-path="url(#f17)">11</text>
<clipPath id="f18"><path clip-rule="evenodd" d="M-400 -200H800V200H-400ZM0.61 -3.59H7.67V1.22H0.61ZM10.43 -3.59H17.44V1.22H10.43Z"/></clipPath>
<text transform="translate(1161.04 916.80) scale(1 1.0700)" font-size="30.60" fill="#262626" text-anchor="middle" clip-path="url(#f18)">21</text>
<clipPath id="f19"><path clip-rule="evenodd" d="M-400 -200H800V200H-400ZM-7.90 -3.59H-0.84V1.22H-7.90ZM1.92 -3.59H8.93V1.22H1.92Z"/></clipPath>
<text transform="translate(1348.55 464.10) scale(1 1.0700)" font-size="30.60" fill="#262626" text-anchor="middle" clip-path="url(#f19)">1</text>
<text transform="translate(1568.70 464.10) scale(1 1.0700)" font-size="30.60" fill="#262626" text-anchor="middle">6</text>
<clipPath id="f20"><path clip-rule="evenodd" d="M-400 -200H800V200H-400ZM-16.41 -3.59H-9.35V1.22H-16.41ZM-6.59 -3.59H0.42V1.22H-6.59ZM0.61 -3.59H7.67V1.22H0.61ZM10.43 -3.59H17.44V1.22H10.43Z"/></clipPath>
<text transform="translate(1794.06 464.10) scale(1 1.0700)" font-size="30.60" fill="#262626" text-anchor="middle" clip-path="url(#f20)">11</text>
<clipPath id="f21"><path clip-rule="evenodd" d="M-400 -200H800V200H-400ZM-7.90 -3.59H-0.84V1.22H-7.90ZM1.92 -3.59H8.93V1.22H1.92Z"/></clipPath>
<text transform="translate(1348.55 916.80) scale(1 1.0700)" font-size="30.60" fill="#262626" text-anchor="middle" clip-path="url(#f21)">1</text>
<clipPath id="f22"><path clip-rule="evenodd" d="M-400 -200H800V200H-400ZM-16.41 -3.59H-9.35V1.22H-16.41ZM-6.59 -3.59H0.42V1.22H-6.59ZM0.61 -3.59H7.67V1.22H0.61ZM10.43 -3.59H17.44V1.22H10.43Z"/></clipPath>
<text transform="translate(1564.02 916.80) scale(1 1.0700)" font-size="30.60" fill="#262626" text-anchor="middle" clip-path="url(#f22)">11</text>
<clipPath id="f23"><path clip-rule="evenodd" d="M-400 -200H800V200H-400ZM0.61 -3.59H7.67V1.22H0.61ZM10.43 -3.59H17.44V1.22H10.43Z"/></clipPath>
<text transform="translate(1774.24 916.80) scale(1 1.0700)" font-size="30.60" fill="#262626" text-anchor="middle" clip-path="url(#f23)">21</text>
<text transform="translate(1333.39 48.00) scale(1 1.0700)" font-size="30.60" fill="#0072BD" text-anchor="end">2</text>
<text transform="translate(1333.39 128.50) scale(1 1.0700)" font-size="30.60" fill="#0072BD" text-anchor="end">0</text>
<text transform="translate(1341.90 209.00) scale(1 1.0700)" font-size="30.60" fill="#0072BD" text-anchor="end">-2</text>
<clipPath id="f24"><path clip-rule="evenodd" d="M-400 -200H800V200H-400ZM0.61 -3.59H7.67V1.22H0.61ZM10.43 -3.59H17.44V1.22H10.43Z"/></clipPath>
<text transform="translate(1848.70 48.00) scale(1 1.0700)" font-size="30.60" fill="#D95319" clip-path="url(#f24)">1</text>
<text transform="translate(1847.70 128.50) scale(1 1.0700)" font-size="30.60" fill="#D95319">0</text>
<clipPath id="f25"><path clip-rule="evenodd" d="M-400 -200H800V200H-400ZM10.80 -3.59H17.86V1.22H10.80ZM20.62 -3.59H27.63V1.22H20.62Z"/></clipPath>
<text transform="translate(1847.70 209.00) scale(1 1.0700)" font-size="30.60" fill="#D95319" clip-path="url(#f25)">-1</text>
<text transform="translate(1333.39 300.83) scale(1 1.0700)" font-size="30.60" fill="#0072BD" text-anchor="end">2</text>
<text transform="translate(1333.39 354.50) scale(1 1.0700)" font-size="30.60" fill="#0072BD" text-anchor="end">0</text>
<text transform="translate(1341.90 408.17) scale(1 1.0700)" font-size="30.60" fill="#0072BD" text-anchor="end">-2</text>
<text transform="translate(1847.70 274.00) scale(1 1.0700)" font-size="30.60" fill="#D95319">2</text>
<text transform="translate(1847.70 354.50) scale(1 1.0700)" font-size="30.60" fill="#D95319">0</text>
<text transform="translate(1847.70 435.00) scale(1 1.0700)" font-size="30.60" fill="#D95319">-2</text>
<text transform="translate(1333.39 500.50) scale(1 1.0700)" font-size="30.60" fill="#0072BD" text-anchor="end">0.5</text>
<text transform="translate(1316.38 581.00) scale(1 1.0700)" font-size="30.60" fill="#0072BD" text-anchor="end">0</text>
<text transform="translate(1341.90 661.50) scale(1 1.0700)" font-size="30.60" fill="#0072BD" text-anchor="end">-0.5</text>
<clipPath id="f26"><path clip-rule="evenodd" d="M-400 -200H800V200H-400ZM26.13 -3.59H33.19V1.22H26.13ZM35.95 -3.59H42.96V1.22H35.95Z"/></clipPath>
<text transform="translate(1847.70 500.50) scale(1 1.0700)" font-size="30.60" fill="#D95319" clip-path="url(#f26)">0.1</text>
<text transform="translate(1847.70 581.00) scale(1 1.0700)" font-size="30.60" fill="#D95319">0</text>
<clipPath id="f27"><path clip-rule="evenodd" d="M-400 -200H800V200H-400ZM36.32 -3.59H43.38V1.22H36.32ZM46.14 -3.59H53.15V1.22H46.14Z"/></clipPath>
<text transform="translate(1847.70 661.50) scale(1 1.0700)" font-size="30.60" fill="#D95319" clip-path="url(#f27)">-0.1</text>
<text transform="translate(1333.39 727.00) scale(1 1.0700)" font-size="30.60" fill="#0072BD" text-anchor="end">0.7</text>
<text transform="translate(1316.38 807.50) scale(1 1.0700)" font-size="30.60" fill="#0072BD" text-anchor="end">0</text>
<text transform="translate(1341.90 888.00) scale(1 1.0700)" font-size="30.60" fill="#0072BD" text-anchor="end">-0.7</text>
<text transform="translate(1847.70 727.00) scale(1 1.0700)" font-size="30.60" fill="#D95319">0.2</text>
<text transform="translate(1847.70 807.50) scale(1 1.0700)" font-size="30.60" fill="#D95319">0</text>
<text transform="translate(1847.70 888.00) scale(1 1.0700)" font-size="30.60" fill="#D95319">-0.2</text>
<text transform="translate(42.90 674.80) rotate(-90) scale(1 1.0400)" font-size="38.45" fill="#262626">Momentum balance (m/s<tspan dy="-18.3" font-size="30">2</tspan><tspan dy="18.3">)</tspan></text>
<text transform="translate(93.00 250.90) rotate(-90) scale(1 1.0400)" font-size="34.00" fill="#262626">M2</text>
<clipPath id="f28"><path clip-rule="evenodd" d="M-400 -200H800V200H-400ZM23.36 -3.84H31.19V1.36H23.36ZM34.26 -3.84H42.06V1.36H34.26Z"/></clipPath>
<text transform="translate(96.00 703.00) rotate(-90) scale(1 1.0400)" font-size="34.00" fill="#262626" clip-path="url(#f28)">K1</text>
<text transform="translate(1278.30 568.20) rotate(-90) scale(1 1.0400)" font-size="33.80" fill="#0072BD">Water level (m)</text>
<text transform="translate(1939.30 571.00) rotate(-90) scale(1 1.0300)" font-size="38.50" fill="#D95319">Velocity (m/s)</text>
<text transform="translate(1082.25 964.21) scale(1 1.0288)" font-size="38.36" fill="#262626">Hours</text>
<line x1="222.2" y1="214.3" x2="279.6" y2="214.3" stroke="#FF00FF" stroke-width="3.05"/>
<line x1="222.2" y1="243.5" x2="279.6" y2="243.5" stroke="#FF0000" stroke-width="3.05"/>
<line x1="483.5" y1="214.3" x2="540.9" y2="214.3" stroke="#00FF00" stroke-width="3.05"/>
<line x1="483.5" y1="243.5" x2="540.9" y2="243.5" stroke="#0000FF" stroke-width="3.05"/>
<line x1="743.9" y1="214.3" x2="801.2" y2="214.3" stroke="#00FFFF" stroke-width="3.05"/>
<line x1="743.9" y1="243.5" x2="801.2" y2="243.5" stroke="#808080" stroke-width="1.8" stroke-dasharray="7.3 7.4"/>
<text transform="translate(283.10 222.98) scale(1 0.9778)" font-size="23.15" fill="#000">Local Acceleration</text>
<text transform="translate(284.55 252.58) scale(1 0.9820)" font-size="23.05" fill="#000">Advection</text>
<text transform="translate(544.71 222.78) scale(1 0.9695)" font-size="23.06" fill="#000">Pressure Gradient</text>
<text transform="translate(545.43 252.58) scale(1 0.9975)" font-size="22.97" fill="#000">Coriolis</text>
<text transform="translate(805.09 222.68) scale(1 0.9533)" font-size="23.31" fill="#000">Friction</text>
<text transform="translate(805.05 252.38) scale(1 0.9596)" font-size="23.30" fill="#000">residual</text>
<line x1="1352.7" y1="213.2" x2="1410.9" y2="213.2" stroke="#0072BD" stroke-width="1.9"/>
<line x1="1352.7" y1="242.4" x2="1410.9" y2="242.4" stroke="#0072BD" stroke-width="1.9" stroke-dasharray="7.3 7.4"/>
<line x1="1634.3" y1="213.2" x2="1692.0" y2="213.2" stroke="#D95319" stroke-width="1.9"/>
<line x1="1634.3" y1="242.4" x2="1692.0" y2="242.4" stroke="#D95319" stroke-width="1.9" stroke-dasharray="7.3 7.4"/>
<text transform="translate(1414.20 222.18) scale(1 0.9677)" font-size="23.11" fill="#000">Present Water Level</text>
<text transform="translate(1414.71 251.68) scale(1 0.9750)" font-size="23.08" fill="#000">Future Water Level</text>
<text transform="translate(1695.82 222.40) scale(1 1.0401)" font-size="22.95" fill="#000">Present Velocity</text>
<text transform="translate(1695.82 251.90) scale(1 1.0481)" font-size="22.91" fill="#000">Future Velocity</text>
</svg></body></html>
